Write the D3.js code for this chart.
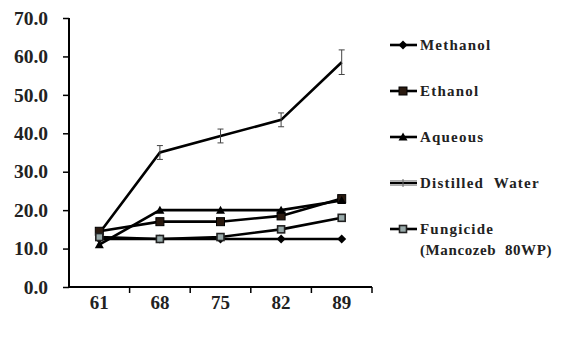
<!DOCTYPE html>
<html><head><meta charset="utf-8">
<script src="https://cdn.jsdelivr.net/npm/d3@7"></script>
<style>body{margin:0;background:#fff}</style>
</head><body>
<svg id="c" width="568" height="341"></svg>
<script>
const categories = ["61","68","75","82","89"];
const yTicks = [0,10,20,30,40,50,60,70];
const methanol = [12.5,12.5,12.5,12.5,12.5];
const ethanol = [14.5,17,17,18.5,23];
const aqueous = [11,20,20,20,22.5];
const distilled = [14,35,39.3,43.5,58.5];
const distilledErr = [1,1.8,1.8,1.8,3.2];
const fungicide = [13,12.5,13,15,18];
const seriesNames = ["Methanol","Ethanol","Aqueous","Distilled  Water","Fungicide"];

const series = [
  {name:seriesNames[0], values:methanol, marker:"diamond"},
  {name:seriesNames[1], values:ethanol, marker:"square"},
  {name:seriesNames[2], values:aqueous, marker:"triangle"},
  {name:seriesNames[3], values:distilled, marker:"none", err:distilledErr},
  {name:seriesNames[4], values:fungicide, marker:"hsquare"}
];

const svg = d3.select("#c");
const x = d3.scaleBand().domain(categories).range([69,372]);
const y = d3.scaleLinear().domain([0,70]).range([287,18]);
const font = "'Liberation Serif','Times New Roman',serif";

// axes
const yAxis = svg.append("g").attr("transform","translate(69,0)")
  .call(d3.axisLeft(y).tickValues(yTicks).tickFormat(d3.format(".1f")).tickSize(6).tickPadding(15));
yAxis.select(".domain").attr("stroke","#000").attr("stroke-width",2).attr("d","M0,18V287");
yAxis.selectAll(".tick line").attr("x2",-6).attr("stroke","#000").attr("stroke-width",1.5);
yAxis.selectAll("text").attr("font-family",font).attr("font-weight","bold").attr("font-size",19.5).attr("fill","#222");

const xAxis = svg.append("g").attr("transform","translate(0,287)")
  .call(d3.axisBottom(x).tickSize(0).tickPadding(9));
xAxis.select(".domain").attr("stroke","#000").attr("stroke-width",2).attr("d","M69,0H372");
xAxis.selectAll("text").attr("font-family",font).attr("font-weight","bold").attr("font-size",19).attr("fill","#222");
// tick marks at band boundaries
const bounds = categories.map(c=>x(c)+x.bandwidth());
svg.append("g").selectAll("line").data(bounds).join("line")
  .attr("x1",d=>d).attr("x2",d=>d).attr("y1",287).attr("y2",293)
  .attr("stroke","#000").attr("stroke-width",1.5);

const cx = c => x(c)+x.bandwidth()/2;
const line = d3.line().x((d,i)=>cx(categories[i])).y(d=>y(d));

function marker(g, type, px, py){
  if(type==="diamond"){
    g.append("path").attr("d",`M${px},${py-4.5}L${px+4.5},${py}L${px},${py+4.5}L${px-4.5},${py}Z`).attr("fill","#000");
  } else if(type==="square"){
    g.append("rect").attr("x",px-4).attr("y",py-4).attr("width",8).attr("height",8).attr("fill","#2a1a10").attr("stroke","#000");
  } else if(type==="triangle"){
    g.append("path").attr("d",`M${px},${py-4.5}L${px+4.5},${py+3.5}L${px-4.5},${py+3.5}Z`).attr("fill","#000");
  } else if(type==="hsquare"){
    g.append("rect").attr("x",px-3.5).attr("y",py-3.5).attr("width",7).attr("height",7).attr("fill","#9aa").attr("stroke","#222").attr("stroke-width",1.6);
  }
}

const plot = svg.append("g");
series.forEach(s=>{
  plot.append("path").attr("d",line(s.values)).attr("fill","none").attr("stroke","#000").attr("stroke-width",2.6);
  if(s.err){
    s.values.forEach((v,i)=>{
      const px = cx(categories[i]);
      const e = s.err[i];
      plot.append("path").attr("d",`M${px},${y(v+e)}V${y(v-e)}M${px-3},${y(v+e)}H${px+3}M${px-3},${y(v-e)}H${px+3}`)
        .attr("stroke","#444").attr("stroke-width",1).attr("fill","none");
    });
  }
});
series.forEach(s=>{
  s.values.forEach((v,i)=>marker(plot, s.marker, cx(categories[i]), y(v)));
});

// legend
const legY = [45,91,137,183,229];
const leg = svg.append("g");
series.forEach((s,i)=>{
  const ly = legY[i];
  leg.append("line").attr("x1",390).attr("x2",417).attr("y1",ly).attr("y2",ly).attr("stroke","#000").attr("stroke-width",2.6);
  if(s.marker==="none"){
    leg.append("line").attr("x1",390).attr("x2",417).attr("y1",ly-2.5).attr("y2",ly-2.5).attr("stroke","#aaa").attr("stroke-width",1);
    leg.append("line").attr("x1",390).attr("x2",417).attr("y1",ly+2.5).attr("y2",ly+2.5).attr("stroke","#aaa").attr("stroke-width",1);
    leg.append("line").attr("x1",403).attr("x2",403).attr("y1",ly-4).attr("y2",ly+4).attr("stroke","#666").attr("stroke-width",1);
  }
  marker(leg, s.marker, 403, ly);
  leg.append("text").attr("x",420).attr("y",ly+5).text(s.name)
    .attr("font-family",font).attr("font-weight","bold").attr("font-size",15).attr("letter-spacing",1.2).attr("fill","#222")
    .style("white-space","pre");
});
leg.append("text").attr("x",420).attr("y",255).text("(Mancozeb  80WP)")
  .attr("font-family",font).attr("font-weight","bold").attr("font-size",15).attr("letter-spacing",0.6).attr("fill","#222")
  .style("white-space","pre");
</script>
</body></html>
